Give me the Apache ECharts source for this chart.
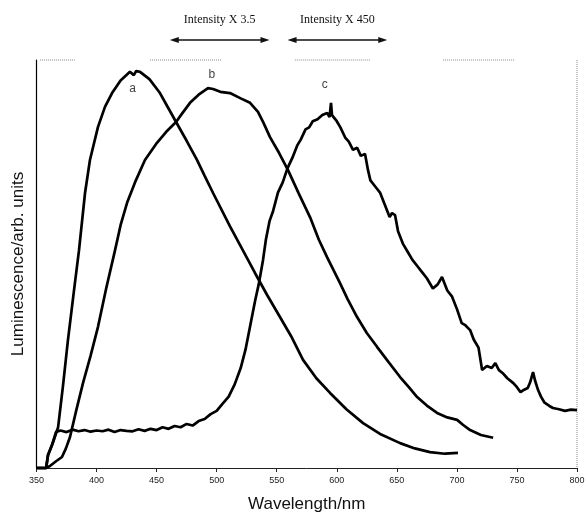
<!DOCTYPE html>
<html>
<head>
<meta charset="utf-8">
<script src="https://cdn.jsdelivr.net/npm/echarts@6/dist/echarts.min.js"></script>
<style>
  html, body { margin: 0; padding: 0; background: #fff; }
  #chart { width: 585px; height: 516px; }
</style>
</head>
<body>
<div id="chart"></div>
<script>
// wavelength ticks
var xTicks = [350, 400, 450, 500, 550, 600, 650, 700, 750, 800];

// curve a  [wavelength nm, luminescence arb.]
var curveA = [[350,0],[358,0],[359.6,3.2],[364,6.5],[368,10],[372,20],[376.2,31.4],[381,43],[385.4,53.4],[390.4,67.4],
  [394.5,75.5],[401.2,83.6],[407,88.5],[412.9,91.9],[420,95],[427.8,97.1],[431,96.3],[433,97.3],[436.2,97.1],[444,95.3],
  [452.8,91.9],[459,88.6],[466.2,84.8],[475,80.2],[483.6,75.5],[490,71.6],[497,67.4],[511,59.3],[526.1,51],[531.9,47.8],
  [542,42.4],[552.7,37],[562,32.3],[571.9,26.5],[583,22],[594.4,18.4],[608,14.4],[621.9,11],[637,8.2],[652.7,6.1],
  [665,4.8],[677.6,3.9],[690,3.5],[700.9,3.7]];

// curve b
var curveB = [[350,0],[358,0],[361.2,0.5],[366,1.6],[371.2,2.7],[374.5,4.8],[377.9,7.6],[383,14],[388.7,20.8],[395,27.5],
  [401.2,34.6],[408,44],[415.4,53.4],[420,59.5],[425.4,65],[432,70],[440.3,75.5],[450.3,79.7],[458,82.4],[466.2,84.8],
  [471,86.8],[477.8,89.5],[485,91.5],[492.8,93.1],[497,92.9],[503,92.2],[511.1,91.9],[520,90.6],[527.8,89.5],[534.4,87.3],
  [539,84.6],[544.4,81.1],[552,77.2],[559.4,73],[568,67.5],[577.7,61.5],[585,56],[591.9,51.7],[602.7,45.3],[609,41.4],
  [616.9,37],[625,33.1],[633.5,29.7],[643,26],[652.7,22.3],[660,19.8],[666.9,17.4],[675,15.3],[683.5,13.5],[692,12.4],
  [700.2,11.8],[705,10.6],[711,9.3],[720,8.1],[730.2,7.4]];

// curve c (noisy trace)
var curveC = [[350,0],[358,0],[359.6,3.2],[362.9,5.6],[366.2,8.8],[370,9.2],[375,8.8],[380,9.4],[385,9.0],[390,9.3],
  [395,8.9],[400,9.2],[405,9.0],[410,9.4],[415,8.8],[420,9.3],[425,9.1],[430,9.0],[435,9.5],[440,9.1],
  [445,9.6],[450,9.3],[455,10.0],[460,9.6],[465,10.3],[470,10.0],[475,10.8],[480,10.4],[485,11.5],[490,12.0],
  [495,13.2],[500,14.0],[505,15.8],[510,17.5],[515,20.5],[520,24.5],[524,29],[528,35],[532,41],[535,45],
  [538.6,51],[541,56],[544,60.5],[547,63],[551,67.5],[555,70],[559,73.5],[563,76],[567,79],[570,80.5],
  [574,83],[577,83.5],[580,85],[584,85.5],[588,86.5],[592,87],[594,86],[595.2,89.5],[596,86.5],[600,85],
  [603,83.5],[607,81],[610,80],[613.5,78],[617,78.5],[620,76.5],[623.5,77],[626,73],[628,70.5],[632,69],
  [636,67.5],[640,64.5],[644,61.5],[646,62.5],[648.5,62],[651,58],[655,55],[659,53],[663,51],[667,49.5],
  [671,48],[675,46.5],[680,44],[684,45],[687.6,46.8],[692,43.5],[696,42],[700,39],[704,35.5],[707,35],
  [711,33.8],[714,31.5],[718,29.5],[721,24],[725,25],[729,24.5],[732,25.7],[735,24],[738,23.3],[742,22],
  [747,20.8],[750,19.8],[753,18.6],[756,19.2],[759,19.6],[761,21],[763.4,23.5],[765,21.5],[767.6,19.1],[770,17.5],
  [773,16],[777,15.2],[780,14.7],[785,14.4],[790,14.0],[795,14.3],[800,14.2]];

// curve labels and intensity arrows (wavelength ranges)
var curveLabels = [['a', 430, 93], ['b', 496, 96.3], ['c', 590, 93.9]];
var arrows = [['Intensity X 3.5', 461, 544], ['Intensity X 450', 559, 642]];

var chart = echarts.init(document.getElementById('chart'));

function line(name, data) {
    return {
        name: name,
        type: 'line',
        data: data,
        showSymbol: false,
        symbol: 'none',
        smooth: false,
        animation: false,
        clip: false,
        lineStyle: { color: '#000', width: 2.7 }
    };
}

chart.setOption({
    backgroundColor: '#fff',
    animation: false,
    grid: { left: 36.5, right: 8, top: 60, bottom: 48, outerBoundsMode: 'none', containLabel: false },
    xAxis: {
        type: 'value',
        min: 350,
        max: 800,
        interval: 50,
        name: 'Wavelength/nm',
        nameLocation: 'middle',
        nameGap: 28,
        nameTextStyle: { fontFamily: 'Liberation Sans', fontSize: 17, color: '#111' },
        axisLine: { lineStyle: { color: '#222', width: 1 } },
        axisTick: { length: 4, lineStyle: { color: '#222' } },
        axisLabel: { fontFamily: 'Liberation Sans', fontSize: 9, color: '#222', margin: 8 },
        splitLine: { show: false }
    },
    yAxis: {
        type: 'value',
        min: 0,
        max: 100,
        name: 'Luminescence/arb. units',
        nameLocation: 'middle',
        nameGap: 10,
        nameTextStyle: { fontFamily: 'Liberation Sans', fontSize: 17, color: '#111' },
        axisLine: { show: true, lineStyle: { color: '#000', width: 1.2 } },
        axisTick: { show: false },
        axisLabel: { show: false },
        splitLine: { show: false }
    },
    series: [line('a', curveA), line('b', curveB), line('c', curveC)]
});

// decorations placed from axis coordinates
function xPix(v) { return chart.convertToPixel({ xAxisIndex: 0 }, v); }
var gr = [];
var yTop = chart.convertToPixel({ yAxisIndex: 0 }, 100);
var yBottom = chart.convertToPixel({ yAxisIndex: 0 }, 0);
var xRight = xPix(800);
var dotted = { stroke: '#888', lineWidth: 1, lineDash: [1, 1] };
[[353, 382], [444.5, 504.5], [565, 628], [688.5, 748.5]].forEach(function (s) {
    gr.push({ type: 'line', silent: true,
        shape: { x1: xPix(s[0]), y1: yTop, x2: xPix(s[1]), y2: yTop },
        style: dotted });
});
gr.push({ type: 'line', silent: true, shape: { x1: xRight, y1: yTop, x2: xRight, y2: yBottom }, style: dotted });

curveLabels.forEach(function (l) {
    var p = chart.convertToPixel({ gridIndex: 0 }, [l[1], l[2]]);
    gr.push({ type: 'text', silent: true, x: p[0], y: p[1],
        style: { text: l[0], fill: '#444', font: '12px Liberation Sans', align: 'center', verticalAlign: 'middle' } });
});

arrows.forEach(function (a) {
    var x1 = xPix(a[1]);
    var x2 = xPix(a[2]);
    var y = 40;
    gr.push({ type: 'text', silent: true, x: (x1 + x2) / 2, y: 20,
        style: { text: a[0], fill: '#111', font: '12px Liberation Serif', align: 'center', verticalAlign: 'middle' } });
    gr.push({ type: 'line', silent: true, shape: { x1: x1 + 4, y1: y, x2: x2 - 4, y2: y },
        style: { stroke: '#111', lineWidth: 1.3 } });
    gr.push({ type: 'polygon', silent: true, shape: { points: [[x1, y], [x1 + 9, y - 3], [x1 + 9, y + 3]] },
        style: { fill: '#111' } });
    gr.push({ type: 'polygon', silent: true, shape: { points: [[x2, y], [x2 - 9, y - 3], [x2 - 9, y + 3]] },
        style: { fill: '#111' } });
});

chart.setOption({ graphic: gr });
</script>
</body>
</html>
